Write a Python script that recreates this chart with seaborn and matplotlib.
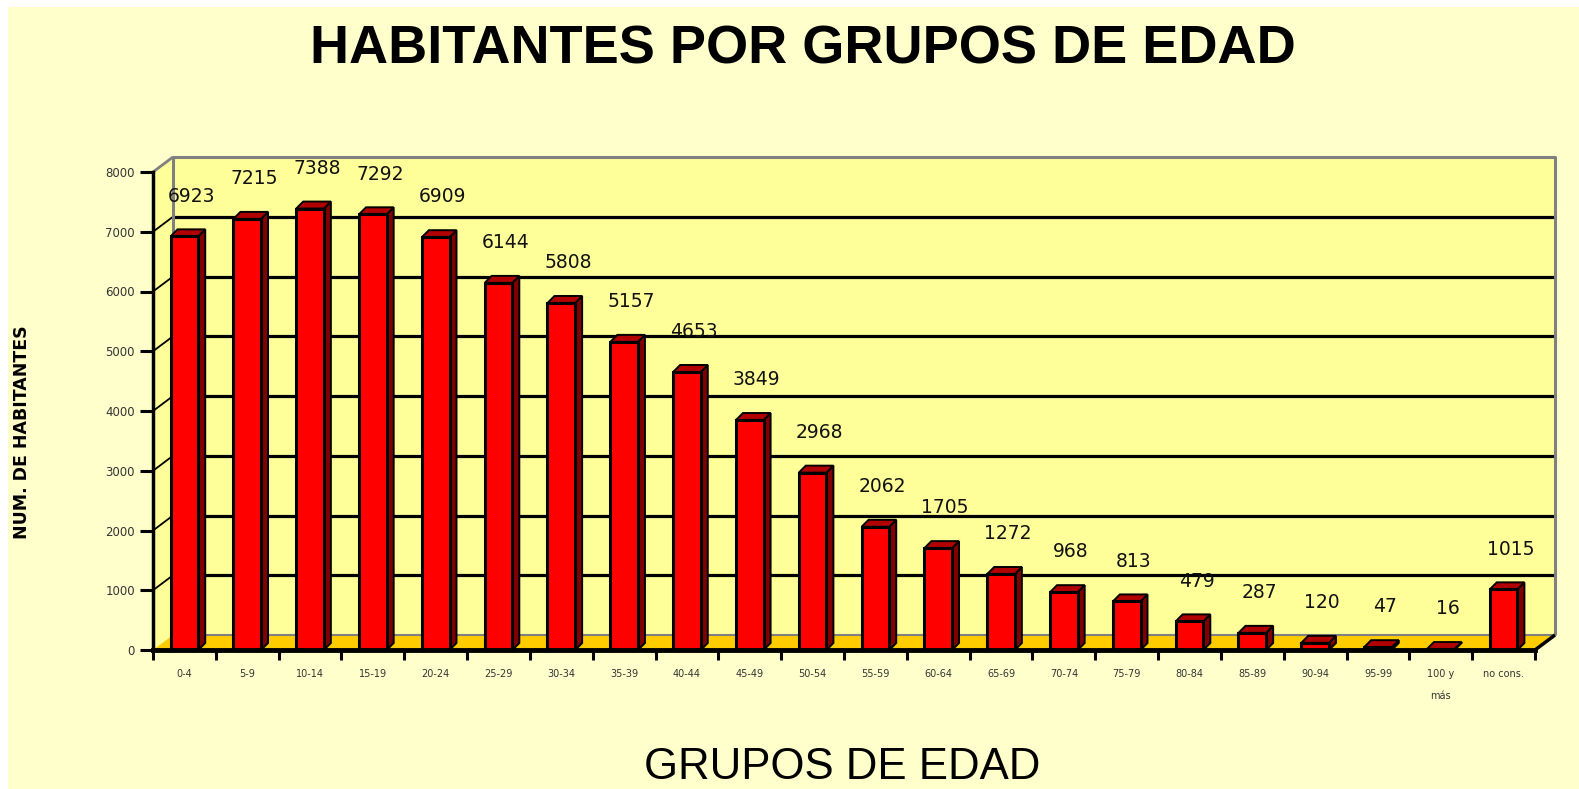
import numpy as np
import pandas as pd
import matplotlib
matplotlib.use("Agg")
import matplotlib.pyplot as plt
import seaborn as sns
from matplotlib.patches import Polygon, Rectangle
from matplotlib.lines import Line2D
from matplotlib.transforms import IdentityTransform

# ---------------- data ----------------
categories = ["0-4", "5-9", "10-14", "15-19", "20-24", "25-29", "30-34", "35-39",
              "40-44", "45-49", "50-54", "55-59", "60-64", "65-69", "70-74", "75-79",
              "80-84", "85-89", "90-94", "95-99", "100 y\nmás", "no cons."]
values = [6923, 7215, 7388, 7292, 6909, 6144, 5808, 5157, 4653, 3849, 2968,
          2062, 1705, 1272, 968, 813, 479, 287, 120, 47, 16, 1015]
y_ticks = [0, 1000, 2000, 3000, 4000, 5000, 6000, 7000, 8000]
title = "HABITANTES POR GRUPOS DE EDAD"
x_label = "GRUPOS DE EDAD"
y_label = "NUM. DE HABITANTES"

# ---------------- figure ----------------
W, H = 1579, 789
fig = plt.figure(figsize=(W / 100, H / 100), dpi=100, facecolor="white")
fig.add_artist(Rectangle((8, 0), W - 8, H - 7, transform=IdentityTransform(),
                         facecolor="#FFFFCC", edgecolor="none", zorder=-10))

X0, X1, YT, YB = 153, 1535, 172, 650
ax = fig.add_axes([X0 / W, 1 - YB / H, (X1 - X0) / W, (YB - YT) / H])
ax.patch.set_visible(False)

df = pd.DataFrame({"grupo": categories, "hab": values})
sns.barplot(data=df, x="grupo", y="hab", color="#FF0000", saturation=1,
            width=0.44, edgecolor="black", linewidth=2.2, ax=ax, zorder=5)
bars = list(ax.patches)

ax.set_xlim(-0.5, len(categories) - 0.5)
ax.set_ylim(y_ticks[0], y_ticks[-1])
ax.set_xlabel("")
ax.set_ylabel("")

T = ax.transData
ID = IdentityTransform()
dX, dY = 20, 15


def P(x, y):
    return T.transform((x, y))


x0d, y0d = P(-0.5, 0)
x1d, y8d = P(len(categories) - 0.5, y_ticks[-1])


def poly(pts, fc, ec="none", lw=0, z=0.1):
    ax.add_patch(Polygon(pts, closed=True, facecolor=fc, edgecolor=ec, linewidth=lw,
                         transform=ID, clip_on=False, zorder=z))


def line(xs, ys, c, lw, z=0.2):
    ax.add_line(Line2D(xs, ys, color=c, linewidth=lw, transform=ID, clip_on=False,
                       zorder=z, solid_capstyle="butt"))


# back wall and left wall
poly([(x0d + dX, y0d + dY), (x1d + dX, y0d + dY), (x1d + dX, y8d + dY), (x0d + dX, y8d + dY)],
     "#FFFF99", z=0.05)
poly([(x0d, y0d), (x0d + dX, y0d + dY), (x0d + dX, y8d + dY), (x0d, y8d)], "#FFFF99", z=0.05)

# gridlines on back wall + diagonals on left wall
for v in y_ticks[1:-1]:
    yy = P(0, v)[1]
    line([x0d + dX, x1d + dX], [yy + dY, yy + dY], "black", 2.3)
    line([x0d, x0d + dX], [yy, yy + dY], "black", 1.3)

# back wall border
line([x0d + dX, x0d + dX, x1d + dX, x1d + dX], [y0d + dY, y8d + dY, y8d + dY, y0d + dY],
     "#808080", 2.2, z=0.3)
line([x0d, x0d + dX], [y8d, y8d + dY], "#808080", 2.0, z=0.3)

# floor
poly([(x0d, y0d), (x1d, y0d), (x1d + dX, y0d + dY), (x0d + dX, y0d + dY)], "#FFCC00", z=0.4)
line([x0d + dX, x1d + dX], [y0d + dY, y0d + dY], "#808080", 1.5, z=0.45)
line([x1d, x1d + dX], [y0d, y0d + dY], "black", 2.5, z=0.45)

# 3D faces of the bars
bd = 7
for p in bars:
    xa, ya = P(p.get_x(), 0)
    xb, yb = P(p.get_x() + p.get_width(), p.get_height())
    poly([(xb, ya), (xb + bd, ya + bd), (xb + bd, yb + bd), (xb, yb)],
         "#800000", ec="black", lw=1.4, z=4.9)
    poly([(xa, yb), (xb, yb), (xb + bd, yb + bd), (xa + bd, yb + bd)],
         "#B00000", ec="black", lw=1.4, z=4.9)

# data labels
for i, v in enumerate(values):
    ax.annotate(f"{v}", (i, v), xytext=(5, 29), textcoords="offset points",
                ha="center", va="center", fontsize=13.5, family="DejaVu Sans",
                color="#111111", zorder=7, annotation_clip=False)

# axes: spines and ticks
for s in ["top", "right"]:
    ax.spines[s].set_visible(False)
ax.spines["left"].set_linewidth(2.5)
ax.spines["left"].set_zorder(6)
ax.spines["bottom"].set_linewidth(3.5)
ax.spines["bottom"].set_zorder(6)

ax.set_yticks(y_ticks)
ax.set_yticklabels([str(v) for v in y_ticks])
ax.tick_params(axis="y", length=9.5, width=2.2, direction="out", pad=3.5,
               labelsize=8.5, labelcolor="#333333")

ax.set_xticks(np.arange(-0.5, len(categories), 1.0))
ax.set_xticklabels([])
ax.tick_params(axis="x", which="major", length=7, width=2.2, direction="out")
ax.set_xticks(np.arange(len(categories)), labels=categories, minor=True)
ax.tick_params(axis="x", which="minor", length=0, pad=14, labelsize=7,
               labelcolor="#333333")
for t in ax.get_xticklabels(minor=True):
    t.set_linespacing(2.4)

# titles
fig.text(803 / W, 1 - 64 / H, title, ha="center", va="baseline", fontsize=39,
         fontweight="bold", family="Liberation Sans", color="black")
fig.text(842 / W, 1 - 779 / H, x_label, ha="center", va="baseline", fontsize=31.5,
         family="Liberation Sans", color="black")
fig.text(22 / W, 1 - 432 / H, y_label, ha="center", va="center", rotation=90,
         fontsize=12.5, fontweight="bold", family="DejaVu Sans", color="black")

fig.savefig("out.png", dpi=100, facecolor=fig.get_facecolor())
